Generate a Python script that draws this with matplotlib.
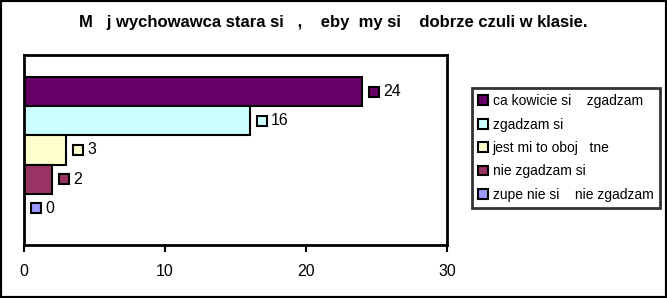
import matplotlib.pyplot as plt
import matplotlib.transforms as mtransforms
from matplotlib.patches import Rectangle, Patch

plt.rcParams['font.family'] = ['Liberation Sans', 'DejaVu Sans']

# data
title = "M   j wychowawca stara si   ,    eby  my si    dobrze czuli w klasie."
labels = ["ca kowicie si    zgadzam", "zgadzam si", "jest mi to oboj   tne",
          "nie zgadzam si", "zupe nie si    nie zgadzam"]
values = [24, 16, 3, 2, 0]
colors = ["#660066", "#CCFFFF", "#FFFFCC", "#993366", "#9999FF"]
xticks = [0, 10, 20, 30]

fig = plt.figure(figsize=(6.67, 2.98), dpi=100)
ax = fig.add_axes([24 / 667, 1 - 245 / 298, 423 / 667, 190 / 298])

ypos = list(range(len(values)))
ax.barh(ypos, values, height=1.0, color=colors, edgecolor='black', linewidth=1.5)

# data labels: small coloured square + value
for y, v, c in zip(ypos, values, colors):
    tr = mtransforms.offset_copy(ax.transData, fig=fig, x=12, y=0, units='dots')
    ax.plot([v], [y], marker='s', markersize=7, markerfacecolor=c,
            markeredgecolor='black', markeredgewidth=1.5, transform=tr, clip_on=False)
    tr2 = mtransforms.offset_copy(ax.transData, fig=fig, x=21, y=0, units='dots')
    ax.text(v, y, str(v), transform=tr2, va='center', ha='left', fontsize=11.5)

ax.set_xlim(0, 30)
ax.set_ylim(5.25, -1.25)
ax.set_xticks(xticks)
ax.set_yticks([])
ax.tick_params(axis='x', direction='out', length=5, width=1.5, labelsize=11.5, pad=9)
for s in ax.spines.values():
    s.set_linewidth(2)

fig.text(0.5, 1 - 22 / 298, title, ha='center', va='center', fontsize=12, fontweight='bold')

handles = [Patch(facecolor=c, edgecolor='black', linewidth=1.5) for c in colors]
leg = fig.legend(handles, labels, loc='center left',
                 bbox_to_anchor=(472 / 667, 1 - 148 / 298), frameon=True, fancybox=False,
                 fontsize=10, handlelength=0.7, handleheight=0.7, handletextpad=0.35,
                 labelspacing=0.68, borderpad=0.45, borderaxespad=0)
leg.get_frame().set_edgecolor('black')
leg.get_frame().set_linewidth(2)

fig.patches.append(Rectangle((0, 0), 1, 1, transform=fig.transFigure, fill=False,
                             edgecolor='black', linewidth=3))

fig.savefig('out.png', dpi=100)
